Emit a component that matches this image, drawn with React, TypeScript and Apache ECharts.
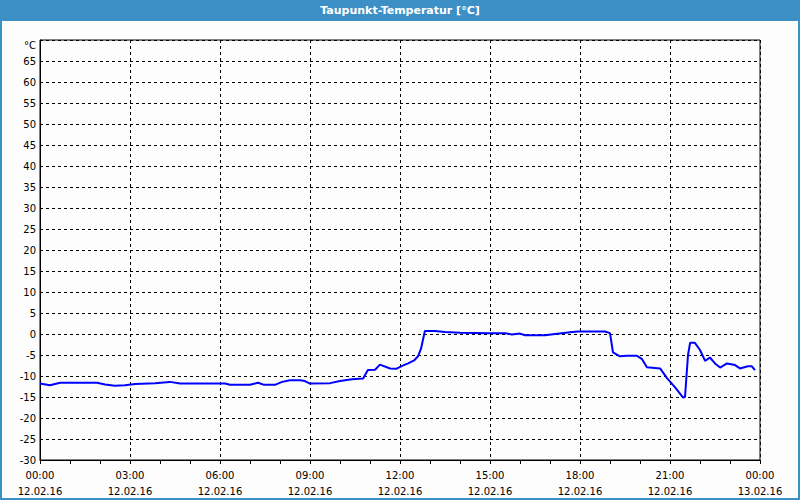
import React, { useEffect, useRef } from "react";
import * as echarts from "echarts";

const TITLE = "Taupunkt-Temperatur [°C]";
const hours = [
  0, 0.33, 0.67, 1.9, 2.17, 2.5, 2.83, 3.17, 3.83, 4.33, 4.67, 5.33, 6.17, 6.33, 7.0, 7.27, 7.47, 7.83,
  8.07, 8.33, 8.67, 8.83, 9.0, 9.67, 10.0, 10.4, 10.77, 10.93, 11.17, 11.33, 11.67, 11.87, 12.07, 12.27,
  12.47, 12.6, 12.7, 12.83, 13.17, 13.5, 14.0, 15.0, 15.5, 15.73, 16.0, 16.17, 16.83, 17.17, 17.67, 17.93,
  18.83, 19.0, 19.1, 19.33, 19.57, 19.9, 20.07, 20.23, 20.67, 20.9, 21.17, 21.43, 21.5, 21.6, 21.67, 21.83,
  22.0, 22.17, 22.33, 22.5, 22.67, 22.9, 23.17, 23.33, 23.6, 23.73, 23.83,
];
const dewPoint = [
  -11.8, -12.2, -11.6, -11.6, -12.0, -12.3, -12.2, -11.9, -11.7, -11.4, -11.8, -11.8, -11.8, -12.1, -12.1,
  -11.6, -12.1, -12.1, -11.4, -11.0, -11.0, -11.2, -11.8, -11.7, -11.2, -10.8, -10.6, -8.6, -8.5, -7.3,
  -8.2, -8.3, -7.6, -7.0, -6.3, -5.3, -3.5, 0.7, 0.7, 0.5, 0.3, 0.2, 0.2, -0.1, 0.1, -0.3, -0.3, 0.0, 0.4,
  0.6, 0.6, 0.2, -4.4, -5.3, -5.2, -5.2, -6.0, -7.9, -8.2, -10.5, -12.7, -15.1, -15.0, -5.0, -2.1, -2.1,
  -3.8, -6.4, -5.6, -7.0, -8.0, -7.0, -7.4, -8.2, -7.7, -7.7, -8.6,
];
const yUnitLabel = "°C";
const dateStart = "12.02.16";
const dateEnd = "13.02.16";

const FONT = "DejaVu Sans";

export default function App() {
  const ref = useRef<HTMLDivElement>(null);
  useEffect(() => {
    if (!ref.current) return;
    const chart = echarts.init(ref.current, null, { renderer: "svg" });
    const data = hours.map((h, i) => [h, dewPoint[i]]);
    chart.setOption({
      animation: false,
      backgroundColor: "#FCFDFC",
      graphic: [
        { type: "rect", shape: { x: 0, y: 0, width: 800, height: 21 }, style: { fill: "#3C90C6" }, z: 10 },
        { type: "rect", shape: { x: 0, y: 21, width: 2, height: 479 }, style: { fill: "#3C90C6" }, z: 10 },
        { type: "rect", shape: { x: 798, y: 21, width: 2, height: 479 }, style: { fill: "#3C90C6" }, z: 10 },
        { type: "rect", shape: { x: 0, y: 498, width: 800, height: 2 }, style: { fill: "#3C90C6" }, z: 10 },
        {
          type: "text",
          x: 400,
          y: 10,
          z: 11,
          style: {
            text: TITLE,
            fill: "#ffffff",
            font: `bold 11px "${FONT}"`,
            align: "center",
            verticalAlign: "middle",
          },
        },
      ],
      grid: { left: 40, right: 40, top: 40, bottom: 40, show: true, borderColor: "#000", borderWidth: 1, backgroundColor: "transparent" },
      xAxis: {
        type: "value",
        min: 0,
        max: 24,
        interval: 3,
        axisLine: { show: true, onZero: false, lineStyle: { color: "#000", width: 1 } },
        axisTick: { show: true, inside: false, length: 4, lineStyle: { color: "#000" } },
        minorTick: { show: true, splitNumber: 3, length: 4, lineStyle: { color: "#000" } },
        splitLine: { show: true, lineStyle: { color: "#000", type: [3, 3], width: 1 } },
        axisLabel: {
          color: "#000",
          fontFamily: FONT,
          fontSize: 10,
          lineHeight: 16,
          margin: 7,
          formatter: (v: number) => {
            const hh = v % 24;
            const t = (hh < 10 ? "0" : "") + hh + ":00";
            return t + "\n" + (v >= 24 ? dateEnd : dateStart);
          },
        },
      },
      yAxis: {
        type: "value",
        min: -30,
        max: 70,
        interval: 5,
        axisLine: { show: true, onZero: false, lineStyle: { color: "#000", width: 1 } },
        axisTick: { show: false },
        splitLine: { show: true, lineStyle: { color: "#000", type: [3, 3], width: 1 } },
        axisLabel: {
          color: "#000",
          fontFamily: FONT,
          fontSize: 10,
          margin: 4,
          formatter: (v: number) => (v === 70 ? "{u|" + yUnitLabel + "}" : String(v)),
          rich: {
            u: { fontFamily: FONT, fontSize: 10, color: "#000", padding: [10, 0, 0, 0] },
          },
        },
      },
      series: [
        {
          type: "line",
          data,
          showSymbol: false,
          lineStyle: { color: "#0000FF", width: 2 },
          itemStyle: { color: "#0000FF" },
        },
      ],
    });
    return () => chart.dispose();
  }, []);
  return <div ref={ref} style={{ position: "absolute", left: 0, top: 0, width: 800, height: 500 }} />;
}
